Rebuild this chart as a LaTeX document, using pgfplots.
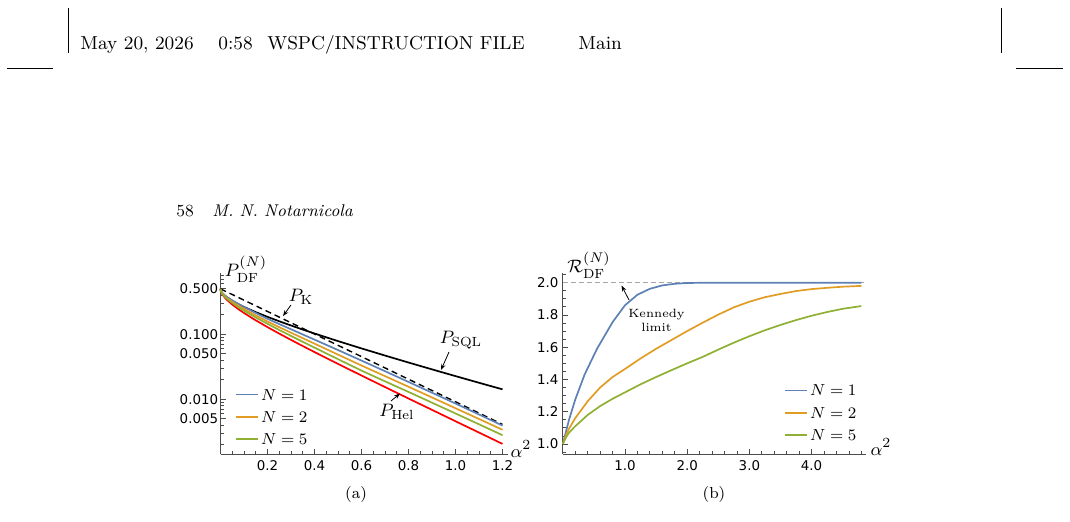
\documentclass[border=0pt]{standalone}
\usepackage{fontspec}
\usepackage{pgfplots}
\pgfplotsset{compat=1.18}
\usetikzlibrary{arrows.meta}
\newfontfamily\tickfont{DejaVu Sans}
\definecolor{mblue}{rgb}{0.368417,0.506779,0.709798}
\definecolor{morange}{rgb}{0.880722,0.611041,0.142051}
\definecolor{mgreen}{rgb}{0.560181,0.691569,0.194885}
\pgfplotsset{
  mstyle/.style={
    scale only axis, anchor=south west,
    axis lines*=left,
    axis line style={black!70, line width=0.5pt},
    tick style={black!70, line width=0.4pt},
    tick align=inside,
    major tick length=2.6pt, minor tick length=1.5pt,
    ticklabel style={font=\tickfont\fontsize{6.7}{7.5}\selectfont, text=black},
    yticklabel style={inner sep=1pt},
    xticklabel style={inner sep=1pt, yshift=-2pt},
    clip=false,
    legend cell align=left,
    legend image code/.code={\draw[##1] (0pt,0pt) -- (11pt,0pt);},
    legend style={draw=none, fill=none, inner sep=0pt, row sep=2.6pt,
      font=\fontsize{8.5}{10}\selectfont,
      nodes={inner sep=1pt, text height=6pt, text depth=0.5pt}},
  },
  cv/.style={line width=0.85pt},
}
\begin{document}
\begin{tikzpicture}
\useasboundingbox (0,0) rectangle (535pt,260.5pt);
% ---------------- panel (a)
\begin{axis}[mstyle,
  at={(110.25pt,33.35pt)}, width=143.95pt, height=90.5pt,
  xmin=0, xmax=1.225, ymode=log, ymin=0.001426, ymax=0.868,
  xtick={0,0.2,0.4,0.6,0.8,1.0,1.2},
  xticklabels={,0.2,0.4,0.6,0.8,1.0,1.2},
  minor x tick num=3,
  ytick={0.005,0.01,0.05,0.1,0.5},
  yticklabels={0.005,0.010,0.050,0.100,0.500},
  minor ytick={0.002,0.003,0.004,0.006,0.007,0.008,0.009,0.02,0.03,0.04,0.06,0.07,0.08,0.09,0.2,0.3,0.4,0.6,0.7,0.8},
  legend style={at={(0.0504,0.2077)}, anchor=west},
]
\addplot[cv, black, forget plot] coordinates {(0,0.5) (0.001,0.47477) (0.002,0.46437) (0.005,0.44377) (0.01,0.42074) (0.02,0.38867) (0.03,0.36452) (0.05,0.32737) (0.075,0.29194) (0.1,0.26355) (0.15,0.21929) (0.2,0.18555) (0.25,0.15866) (0.3,0.13667) (0.35,0.11836) (0.4,0.10295) (0.5,0.07865) (0.6,0.06067) (0.7,0.04713) (0.8,0.03682) (0.9,0.02889) (1.0,0.02275) (1.1,0.01797) (1.2,0.01423)};
\addplot[line width=0.7pt, black, dash pattern=on 3pt off 2pt, forget plot] coordinates {(0,0.5) (0.1,0.33516) (0.2,0.22466) (0.3,0.15060) (0.4,0.10095) (0.5,0.06767) (0.6,0.04536) (0.7,0.03041) (0.8,0.02038) (0.9,0.01366) (1.0,0.00916) (1.1,0.00614) (1.2,0.00411)};
\addplot[cv, red, forget plot] coordinates {(0,0.5) (0.001,0.46841) (0.002,0.45537) (0.005,0.42964) (0.01,0.40099) (0.02,0.36136) (0.03,0.33186) (0.05,0.28712) (0.075,0.24545) (0.1,0.21291) (0.15,0.16415) (0.2,0.12896) (0.25,0.10247) (0.3,0.08203) (0.35,0.06601) (0.4,0.05332) (0.5,0.03507) (0.6,0.02322) (0.7,0.01544) (0.8,0.01029) (0.9,0.00688) (1.0,0.00460) (1.1,0.00308) (1.2,0.002061)};
\addplot[cv, mblue] coordinates {(0,0.5) (0.001,0.4727) (0.002,0.4617) (0.005,0.4416) (0.01,0.4216) (0.02,0.3935) (0.03,0.3707) (0.05,0.3333) (0.075,0.2950) (0.1,0.2638) (0.15,0.2124) (0.2,0.1732) (0.25,0.1438) (0.3,0.1197) (0.35,0.09948) (0.4,0.0828) (0.5,0.05727) (0.6,0.03943) (0.7,0.02708) (0.8,0.01851) (0.9,0.01264) (1.0,0.00861) (1.1,0.005843) (1.2,0.003945)};
\addlegendentry{$N=1$}
\addplot[cv, morange] coordinates {(0,0.5) (0.001,0.4715) (0.002,0.4596) (0.005,0.4375) (0.01,0.4150) (0.02,0.3820) (0.03,0.3564) (0.05,0.3170) (0.075,0.2779) (0.1,0.2461) (0.15,0.1955) (0.2,0.1576) (0.25,0.1287) (0.3,0.1059) (0.35,0.0872) (0.4,0.0719) (0.5,0.04875) (0.6,0.03311) (0.7,0.02273) (0.8,0.01561) (0.9,0.01068) (1.0,0.00729) (1.1,0.004984) (1.2,0.003397)};
\addlegendentry{$N=2$}
\addplot[cv, mgreen] coordinates {(0,0.5) (0.001,0.4700) (0.002,0.4575) (0.005,0.4346) (0.01,0.4094) (0.02,0.3733) (0.03,0.3458) (0.05,0.3040) (0.075,0.2631) (0.1,0.2312) (0.15,0.1814) (0.2,0.1451) (0.25,0.1166) (0.3,0.0944) (0.35,0.07664) (0.4,0.0625) (0.5,0.04148) (0.6,0.02766) (0.7,0.01891) (0.8,0.01299) (0.9,0.00888) (1.0,0.00606) (1.1,0.004127) (1.2,0.002805)};
\addlegendentry{$N=5$}
\end{axis}
% ---------------- panel (b)
\begin{axis}[mstyle,
  at={(281.4pt,33.35pt)}, width=151.6pt, height=90.5pt,
  xmin=0, xmax=4.875, ymin=0.936, ymax=2.058,
  xtick={0,1,2,3,4},
  xticklabels={,1.0,2.0,3.0,4.0},
  minor xtick={0.2,0.4,0.6,0.8,1.2,1.4,1.6,1.8,2.2,2.4,2.6,2.8,3.2,3.4,3.6,3.8,4.2,4.4,4.6,4.8},
  ytick={1.0,1.2,1.4,1.6,1.8,2.0},
  yticklabels={1.0,1.2,1.4,1.6,1.8,2.0},
  minor ytick={0.95,1.05,1.1,1.15,1.25,1.3,1.35,1.45,1.5,1.55,1.65,1.7,1.75,1.85,1.9,1.95,2.05},
  yticklabel style={xshift=-1pt},
  legend style={at={(0.7296,0.23)}, anchor=west},
]
\addplot[line width=0.5pt, black!35, dash pattern=on 2.5pt off 1.5pt, forget plot] coordinates {(0,2.0) (4.875,2.0)};
\addplot[cv, mblue] coordinates {(0,1.0) (0.1,1.15) (0.2,1.275) (0.35,1.43) (0.55,1.59) (0.8,1.755) (1.0,1.86) (1.2,1.925) (1.4,1.962) (1.6,1.983) (1.8,1.993) (2.0,1.998) (2.4,2.0) (3.0,2.0) (4.0,2.0) (4.8,2.0)};
\addlegendentry{$N=1$}
\addplot[cv, morange] coordinates {(0,1.0) (0.05,1.055) (0.1,1.095) (0.2,1.16) (0.4,1.265) (0.6,1.35) (0.8,1.415) (1.0,1.465) (1.25,1.53) (1.5,1.59) (1.75,1.645) (2.0,1.70) (2.25,1.752) (2.5,1.802) (2.75,1.847) (3.0,1.882) (3.25,1.91) (3.5,1.93) (3.75,1.948) (4.0,1.96) (4.25,1.968) (4.5,1.975) (4.8,1.98)};
\addlegendentry{$N=2$}
\addplot[cv, mgreen] coordinates {(0,1.0) (0.05,1.04) (0.1,1.07) (0.2,1.11) (0.4,1.18) (0.6,1.235) (0.8,1.28) (1.0,1.32) (1.25,1.37) (1.5,1.415) (1.75,1.458) (2.0,1.50) (2.25,1.54) (2.5,1.585) (2.75,1.628) (3.0,1.668) (3.25,1.705) (3.5,1.738) (3.75,1.768) (4.0,1.795) (4.25,1.818) (4.5,1.838) (4.8,1.855)};
\addlegendentry{$N=5$}
\end{axis}
% ---------------- page furniture and annotations (pixel grid of the reference)
\begin{scope}[x=0.5pt, y=-0.5pt, yshift=260.5pt]
  \draw[line width=0.4pt] (68,8) -- (68,53);
  \draw[line width=0.4pt] (1001,8) -- (1001,53);
  \draw[line width=0.4pt] (7,68) -- (53,68);
  \draw[line width=0.4pt] (1016,68) -- (1063,68);
  \begin{scope}[every node/.style={anchor=base west, inner sep=0pt, font=\fontsize{9.4}{11}\selectfont}]
    \node at (80,49) {May 20, 2026};
    \node at (218,49) {0:58};
    \node at (267,49) {WSPC/INSTRUCTION FILE};
    \node at (578,49) {Main};
  \end{scope}
  \node[anchor=base west, inner sep=0pt, font=\fontsize{8.5}{10}\selectfont] at (176,216) {58};
  \node[anchor=base west, inner sep=0pt, font=\fontsize{8.5}{10}\selectfont\itshape] at (212,216) {M. N. Notarnicola};
  \node[font=\fontsize{8}{10}\selectfont] at (356,494) {(a)};
  \node[font=\fontsize{8}{10}\selectfont] at (714,494) {(b)};
  \begin{scope}[every node/.style={inner sep=0pt, font=\fontsize{9.5}{11}\selectfont}]
    \node at (246,269) {$P^{(N)}_{\mathrm{DF}}$};
    \node at (589,265) {$\mathcal{R}^{(N)}_{\mathrm{DF}}$};
    \node at (521,449) {$\alpha^2$};
    \node at (881,447) {$\alpha^2$};
    \node at (301,297) {$P_{\mathrm{K}}$};
    \node at (461,340) {$P_{\mathrm{SQL}}$};
    \node at (397,412) {$P_{\mathrm{Hel}}$};
  \end{scope}
  \node[align=center, inner sep=0pt, font=\fontsize{6}{7}\selectfont] at (656.5,320) {Kennedy\\limit};
  \begin{scope}[line width=0.4pt, -{Stealth[length=3pt,width=2.2pt]}]
    \draw (291,305) -- (283,316);
    \draw (449,352) -- (441,370);
    \draw (391,401) -- (400,393.5);
    \draw (629,300) -- (621.5,285.5);
  \end{scope}
\end{scope}
\end{tikzpicture}
\end{document}
